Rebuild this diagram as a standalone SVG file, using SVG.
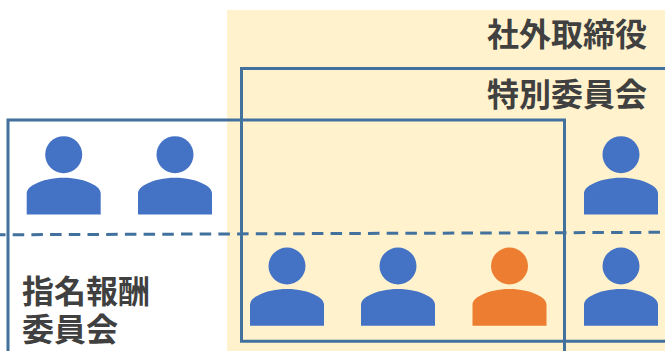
<svg xmlns="http://www.w3.org/2000/svg" width="665" height="351" viewBox="0 0 665 351">
<style>
.frame{fill:none;stroke:#41719c;stroke-width:3}
.dash{fill:none;stroke:#41719c;stroke-width:3;stroke-dasharray:11.500 7.200}
.lbl{font-family:"Noto Sans CJK JP","Noto Sans CJK SC",sans-serif;font-size:32px;font-weight:700;fill:#404040}
.blue{fill:#4472c4}
.orange{fill:#ed7d31}
</style>
<defs>
<g id="person">
<circle cx="0" cy="0" r="18.500"/>
<path d="M-37 59.700V39C-37 35-34 32-30 30C-21 25-11 23 0 23C11 23 21 25 30 30C34 32 37 35 37 39V59.700Z"/>
</g>
</defs>
<rect id="outside-directors" x="227" y="10" width="438" height="341" fill="#fff2cc"/>
<g id="connectors">
<path class="dash" d="M-6 234.800L665 232.300"/>
</g>
<g id="special-committee"><path class="frame" d="M666 68.500H241.500V341.200H666"/></g>
<g id="nomination-committee"><path class="frame" d="M564.500 352V120H8V352"/></g>
<g id="p1" class="blue"><use href="#person" x="63.700" y="154.700"/></g>
<g id="p2" class="blue"><use href="#person" x="175" y="154.700"/></g>
<g id="p3" class="blue"><use href="#person" x="621" y="154.700"/></g>
<g id="p4" class="blue"><use href="#person" x="287" y="266"/></g>
<g id="p5" class="blue"><use href="#person" x="398" y="266"/></g>
<g id="p6" class="orange"><use href="#person" x="509.500" y="266"/></g>
<g id="p7" class="blue"><use href="#person" x="621" y="266"/></g>
<g id="label-outside"><text class="lbl" x="487" y="46">社外取締役</text></g>
<g id="label-special"><text class="lbl" x="487" y="106">特別委員会</text></g>
<g id="label-nomination"><text class="lbl" x="22" y="303">指名報酬</text><text class="lbl" x="22" y="341">委員会</text></g>
</svg>
